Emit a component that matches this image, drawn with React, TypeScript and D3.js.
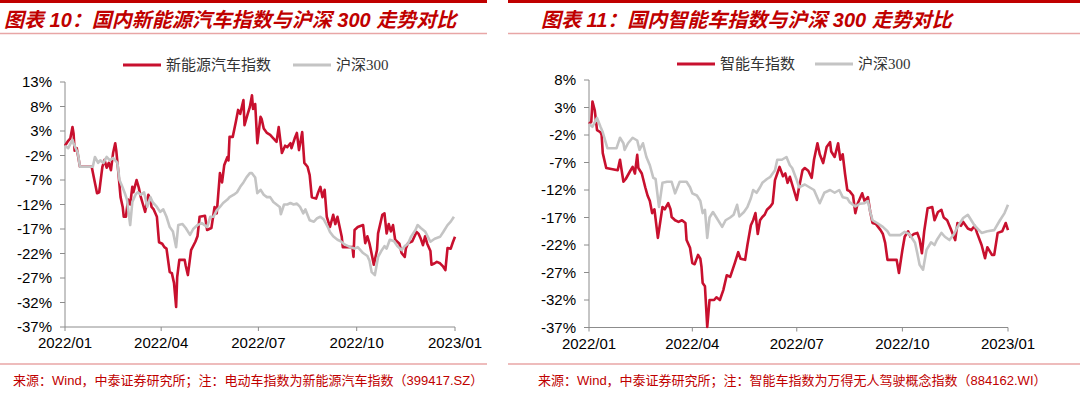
import React from 'react';
import * as d3 from 'd3';

// ---- data: [day offset from 2022-01-01, cumulative change %] ----
const nevIndex: [number, number][] = [
  [0, 0], [3, 1.0], [5, 1.5], [7, 3.8], [8, 2.5], [9, -1.0], [11, -0.5], [12, -1.8], [14, -4.3],
  [25, -4.3], [27, -6.5], [30, -9.7], [32, -9.5], [34, -6.0], [35, -4.3], [37, -2.9], [39, -4.5],
  [41, -3.5], [43, -5.0], [45, -1.5], [47, 0.5], [48, -1.0], [50, -5.6], [52, -10.5], [54, -12.5],
  [55, -14.5], [57, -14.5], [59, -11.0], [61, -12.0], [63, -8.4], [64, -9.5], [67, -7.0], [69, -8.5],
  [71, -10.5], [73, -12.0], [75, -13.5], [78, -10.0], [80, -11.0], [81, -12.5], [83, -13.0],
  [86, -14.5], [88, -19.7], [91, -20.0], [93, -20.7], [95, -21.0], [98, -25.8], [100, -26.0],
  [102, -28.0], [104, -32.9], [105, -26.8], [107, -23.3], [112, -23.3], [113, -24.5], [115, -26.4],
  [118, -21.3], [122, -19.6], [124, -18.5], [126, -14.5], [131, -14.3], [133, -17.2], [137, -16.8],
  [140, -12.5], [142, -13.8], [145, -5.6], [147, -7.5], [149, -4.0], [152, -2.3], [153, -3.0],
  [154, 1.8], [157, 1.8], [160, 5.0], [162, 7.3], [164, 6.5], [167, 9.3], [168, 4.2], [171, 6.5],
  [173, 7.9], [175, 10.3], [176, 7.5], [178, 8.5], [180, 0.5], [183, 5.9], [184, 5.5], [186, 3.5],
  [189, 2.6], [192, 2.2], [195, 1.5], [198, 0.8], [200, 3.8], [203, -1.5], [206, 0.0], [208, -0.3],
  [211, 0.5], [212, -0.5], [215, 1.5], [217, 2.6], [219, -0.9], [222, 2.8], [224, -3.5], [227, -4.3],
  [229, -6.0], [231, -10.5], [235, -10.8], [237, -9.5], [239, -8.4], [241, -10.5], [243, -9.0],
  [245, -14.5], [248, -16.6], [251, -14.1], [253, -16.0], [255, -14.5], [259, -18.6], [260, -20.7],
  [269, -20.7], [270, -22.7], [271, -17.2], [274, -16.6], [279, -16.2], [281, -19.9], [283, -18.5],
  [285, -20.0], [286, -21.0], [289, -24.3], [292, -21.3], [293, -17.9], [297, -14.1], [299, -13.8],
  [301, -17.9], [303, -16.0], [305, -17.5], [307, -16.2], [309, -19.2], [313, -20.0], [315, -21.9],
  [318, -22.7], [319, -21.0], [321, -19.9], [325, -19.5], [329, -17.6], [331, -18.0], [333, -19.0],
  [335, -20.3], [337, -18.5], [339, -20.0], [342, -21.5], [343, -24.3], [346, -24.0], [348, -23.7],
  [351, -24.0], [354, -24.7], [356, -25.4], [358, -20.9], [361, -21.0], [363, -19.7], [365, -18.6],
];

const hs300Left: [number, number][] = [
  [0, 0], [3, -0.5], [7, 1.2], [8, 0.5], [10, -0.5], [12, -1.5], [14, -4.3], [26, -4.3], [28, -2.3],
  [31, -3.5], [33, -3.0], [36, -3.5], [39, -2.3], [42, -3.0], [45, -2.5], [49, -3.5], [51, -7.0],
  [53, -8.0], [56, -9.7], [58, -11.0], [61, -16.2], [63, -11.5], [66, -10.0], [68, -9.5], [71, -10.0],
  [74, -9.5], [77, -12.5], [80, -10.5], [82, -11.5], [86, -12.5], [89, -13.5], [92, -13.0],
  [95, -14.5], [98, -16.6], [101, -17.5], [104, -20.7], [106, -16.2], [110, -16.0], [113, -16.8],
  [117, -18.2], [120, -17.0], [124, -16.2], [128, -15.8], [133, -16.6], [136, -14.5], [139, -14.5],
  [142, -13.2], [145, -12.5], [148, -11.7], [152, -11.0], [154, -10.5], [158, -10.0], [161, -9.5],
  [164, -8.4], [167, -7.5], [170, -6.4], [173, -5.6], [175, -5.6], [178, -6.5], [180, -9.7],
  [183, -9.0], [186, -10.0], [189, -10.5], [192, -10.5], [195, -11.5], [198, -12.0], [201, -12.5],
  [202, -14.0], [205, -12.0], [208, -12.0], [211, -11.7], [214, -12.0], [217, -11.8], [220, -12.5],
  [223, -13.8], [225, -13.0], [229, -15.2], [233, -15.5], [236, -14.8], [239, -14.5], [242, -15.0],
  [246, -16.6], [248, -17.6], [251, -18.5], [255, -19.2], [258, -19.5], [262, -20.2], [267, -20.7],
  [271, -21.0], [274, -20.7], [279, -21.9], [283, -22.5], [285, -23.5], [287, -25.8], [290, -26.4],
  [293, -22.7], [296, -21.5], [299, -20.5], [301, -21.0], [304, -19.2], [308, -19.5], [311, -20.5],
  [315, -21.3], [318, -20.5], [321, -20.0], [324, -18.5], [328, -17.2], [330, -16.2], [333, -16.8],
  [337, -17.5], [342, -19.6], [346, -19.0], [351, -18.6], [354, -17.6], [358, -16.2], [361, -15.5],
  [364, -14.5],
];

const smartIndex: [number, number][] = [
  [0, 0], [2, 0.4], [3, 4.1], [5, 2.5], [7, -1.1], [10, -1.5], [11, -2.0], [12, -5.3], [15, -8.0],
  [25, -8.4], [27, -6.5], [30, -10.5], [32, -10.0], [36, -8.5], [38, -7.8], [40, -9.0], [42, -5.6],
  [43, -8.0], [46, -9.0], [49, -11.5], [51, -13.0], [53, -14.0], [55, -16.2], [57, -15.5],
  [60, -20.7], [64, -15.1], [66, -15.5], [69, -14.4], [71, -15.5], [72, -16.9], [75, -17.5],
  [78, -17.8], [81, -17.5], [84, -18.0], [85, -21.1], [88, -22.5], [90, -25.3], [92, -25.5],
  [95, -23.8], [97, -24.5], [98, -26.0], [99, -28.9], [101, -29.5], [103, -36.9], [104, -34.5],
  [105, -32.0], [109, -32.0], [111, -31.5], [114, -32.0], [117, -30.2], [120, -27.5], [123, -27.8],
  [127, -25.3], [130, -23.3], [132, -24.5], [136, -24.7], [138, -22.0], [141, -18.4], [143, -17.5],
  [145, -16.2], [147, -20.0], [149, -17.5], [151, -16.9], [153, -16.5], [155, -15.6], [158, -15.0],
  [160, -14.4], [162, -10.2], [164, -9.0], [166, -7.8], [169, -9.5], [171, -9.0], [173, -10.7],
  [175, -9.6], [177, -11.0], [181, -13.8], [183, -11.5], [186, -8.4], [188, -8.0], [191, -8.5],
  [194, -9.8], [196, -6.5], [199, -3.5], [201, -5.5], [204, -7.1], [207, -4.2], [210, -3.3],
  [211, -5.0], [214, -6.0], [217, -3.5], [219, -6.5], [221, -5.5], [223, -9.0], [225, -12.0],
  [227, -12.2], [230, -13.0], [232, -16.2], [234, -14.5], [238, -12.6], [240, -14.0], [243, -13.3],
  [245, -16.0], [247, -18.0], [250, -18.2], [254, -19.3], [256, -20.0], [258, -21.6], [260, -24.7],
  [268, -24.7], [270, -27.1], [273, -22.9], [275, -20.5], [278, -19.5], [280, -20.5], [283, -20.0],
  [286, -19.8], [288, -21.0], [290, -23.5], [292, -19.5], [295, -15.3], [299, -15.1], [301, -17.5],
  [304, -16.0], [307, -15.6], [309, -17.0], [312, -17.5], [315, -19.0], [319, -21.1], [321, -18.0],
  [324, -18.5], [326, -17.8], [330, -19.0], [333, -19.3], [336, -18.5], [338, -19.8], [342, -22.0],
  [345, -24.4], [347, -22.4], [351, -23.8], [353, -23.8], [356, -19.8], [360, -19.5], [363, -18.0],
  [365, -19.3],
];

const hs300Right: [number, number][] = [
  [0, 0], [3, -0.5], [7, 1.1], [10, -0.5], [12, -1.5], [16, -4.4], [24, -4.4], [27, -2.5],
  [30, -3.5], [31, -4.7], [34, -3.5], [38, -2.5], [42, -3.0], [44, -4.7], [47, -3.5], [50, -6.0],
  [53, -7.5], [56, -9.8], [58, -10.0], [61, -15.1], [64, -10.7], [68, -10.5], [72, -10.5],
  [75, -12.6], [79, -10.5], [85, -10.5], [88, -11.5], [90, -12.6], [94, -13.0], [97, -14.0],
  [99, -16.2], [101, -15.6], [103, -20.7], [105, -17.0], [108, -16.0], [111, -17.0], [116, -18.7],
  [119, -17.5], [123, -17.0], [126, -16.5], [129, -14.7], [131, -16.8], [135, -16.0], [138, -15.1],
  [141, -13.5], [143, -12.0], [146, -12.5], [149, -11.5], [151, -10.7], [155, -10.0], [158, -9.6],
  [162, -8.4], [164, -6.5], [168, -6.5], [172, -6.0], [175, -7.5], [177, -8.0], [181, -10.2],
  [183, -11.5], [188, -11.0], [192, -11.5], [196, -12.0], [201, -14.4], [205, -12.5], [210, -12.0],
  [214, -12.5], [218, -12.0], [221, -13.3], [225, -13.5], [227, -14.2], [232, -15.0], [236, -14.5],
  [240, -14.4], [243, -14.0], [245, -16.0], [247, -17.5], [251, -18.0], [256, -18.7], [260, -19.5],
  [262, -20.2], [271, -20.2], [275, -19.6], [279, -20.0], [284, -21.6], [286, -23.5], [288, -25.6],
  [291, -26.5], [294, -22.9], [298, -21.5], [301, -22.0], [303, -21.1], [307, -19.8], [310, -20.5],
  [314, -21.1], [318, -20.0], [321, -18.7], [326, -17.1], [330, -16.5], [333, -17.5], [336, -18.5],
  [342, -19.8], [347, -19.5], [353, -19.3], [358, -17.5], [362, -16.2], [365, -14.7],
];

const xTickLabels = ['2022/01', '2022/04', '2022/07', '2022/10', '2023/01'];
const xTickDates = ['2022-01-01', '2022-04-01', '2022-07-01', '2022-10-01', '2023-01-01'];
const leftYTicks = [13, 8, 3, -2, -7, -12, -17, -22, -27, -32, -37];
const rightYTicks = [8, 3, -2, -7, -12, -17, -22, -27, -32, -37];

const leftTitle = '图表 10：国内新能源汽车指数与沪深 300 走势对比';
const rightTitle = '图表 11：国内智能车指数与沪深 300 走势对比';
const leftSeriesNames = ['新能源汽车指数', '沪深300'];
const rightSeriesNames = ['智能车指数', '沪深300'];
const leftNote = '来源：Wind，中泰证券研究所；注：电动车指数为新能源汽车指数（399417.SZ）';
const rightNote = '来源：Wind，中泰证券研究所；注：智能车指数为万得无人驾驶概念指数（884162.WI）';

const RED = '#C8102E';
const GRAY = '#C4C4C4';
const TITLE_RED = '#C00000';
const PINK = '#E8A6A6';
const AXIS = '#8C8C8C';
const LATIN = '"Liberation Sans", Arial, "Noto Sans CJK SC", sans-serif';
const SERIF = '"Liberation Serif", "Noto Sans CJK SC", serif';

const base = new Date(2022, 0, 1);
const toDate = (d: number) => d3.timeDay.offset(base, d);
const parse = d3.timeParse('%Y-%m-%d');

type PanelProps = {
  left: number; right: number; ruleRight: number; titleX: number; noteX: number;
  axisX0: number; axisX1: number; yTop: number; yBottom: number;
  yTicks: number[]; title: string; note: string; names: string[];
  red: [number, number][]; gray: [number, number][];
  legendRedX: number; legendGrayX: number; legendY: number;
};

function Panel(p: PanelProps) {
  const x = d3.scaleTime().domain([base, new Date(2023, 0, 1)]).range([p.axisX0, p.axisX1]);
  const y = d3.scaleLinear()
    .domain([p.yTicks[p.yTicks.length - 1], p.yTicks[0]])
    .range([p.yBottom, p.yTop]);
  const line = d3.line<[number, number]>()
    .x(d => x(toDate(d[0])))
    .y(d => y(d[1]))
    .curve(d3.curveLinear);
  return (
    <g>
      <line x1={p.left} x2={p.ruleRight} y1={1.5} y2={1.5} stroke={TITLE_RED} strokeWidth={3} />
      <text x={p.titleX} y={27} fill={TITLE_RED} fontSize={20} fontWeight="bold" fontStyle="italic"
        fontFamily={LATIN}>{p.title}</text>
      <line x1={p.left} x2={p.ruleRight} y1={33.5} y2={33.5} stroke={PINK} strokeWidth={1.5} />

      {/* legend */}
      <line x1={p.legendRedX} x2={p.legendRedX + 38} y1={p.legendY} y2={p.legendY} stroke={RED} strokeWidth={3} />
      <text x={p.legendRedX + 43} y={p.legendY + 5} fontSize={15} fill="#333" fontFamily={SERIF}>{p.names[0]}</text>
      <line x1={p.legendGrayX} x2={p.legendGrayX + 38} y1={p.legendY} y2={p.legendY} stroke={GRAY} strokeWidth={3} />
      <text x={p.legendGrayX + 43} y={p.legendY + 5} fontSize={15} fill="#333" fontFamily={SERIF}>{p.names[1]}</text>

      {/* y axis */}
      <line x1={p.axisX0} x2={p.axisX0} y1={p.yTop} y2={p.yBottom} stroke={AXIS} strokeWidth={1} />
      {p.yTicks.map(t => (
        <g key={t}>
          <line x1={p.axisX0 - 5} x2={p.axisX0} y1={y(t)} y2={y(t)} stroke={AXIS} strokeWidth={1} />
          <text x={p.axisX0 - 13} y={y(t) + 5} textAnchor="end" fontSize={15} fill="#000"
            fontFamily={LATIN}>{`${t}%`}</text>
        </g>
      ))}
      {/* x axis */}
      <line x1={p.axisX0} x2={p.axisX1} y1={p.yBottom} y2={p.yBottom} stroke={AXIS} strokeWidth={1} />
      {xTickDates.map((d, i) => {
        const xx = x(parse(d) as Date);
        return (
          <g key={d}>
            <line x1={xx} x2={xx} y1={p.yBottom} y2={p.yBottom + 4} stroke={AXIS} strokeWidth={1} />
            <text x={xx} y={p.yBottom + 21} textAnchor="middle" fontSize={15} fill="#000"
              fontFamily={LATIN}>{xTickLabels[i]}</text>
          </g>
        );
      })}

      <path d={line(p.red) || ''} fill="none" stroke={RED} strokeWidth={2.6} strokeLinejoin="round" />
      <path d={line(p.gray) || ''} fill="none" stroke={GRAY} strokeWidth={2.6} strokeLinejoin="round" />

      <line x1={p.left} x2={p.ruleRight} y1={364} y2={364} stroke={PINK} strokeWidth={1.5} />
      <text x={p.noteX} y={385} fill={TITLE_RED} fontSize={13} fontFamily={LATIN}>{p.note}</text>
    </g>
  );
}

export default function App() {
  return (
    <svg width={1080} height={393} viewBox="0 0 1080 393"
      style={{ position: 'absolute', left: 0, top: 0, background: '#fff' }}>
      <rect x={0} y={0} width={1080} height={393} fill="#fff" />
      <Panel left={0} right={487} ruleRight={487} titleX={4} noteX={13}
        axisX0={65} axisX1={455} yTop={82} yBottom={327}
        yTicks={leftYTicks} title={leftTitle} note={leftNote} names={leftSeriesNames}
        red={nevIndex} gray={hs300Left} legendRedX={123} legendGrayX={293} legendY={65} />
      <Panel left={508} right={1080} ruleRight={1080} titleX={541} noteX={538}
        axisX0={589} axisX1={1008} yTop={80} yBottom={327.5}
        yTicks={rightYTicks} title={rightTitle} note={rightNote} names={rightSeriesNames}
        red={smartIndex} gray={hs300Right} legendRedX={677} legendGrayX={815} legendY={64} />
    </svg>
  );
}
